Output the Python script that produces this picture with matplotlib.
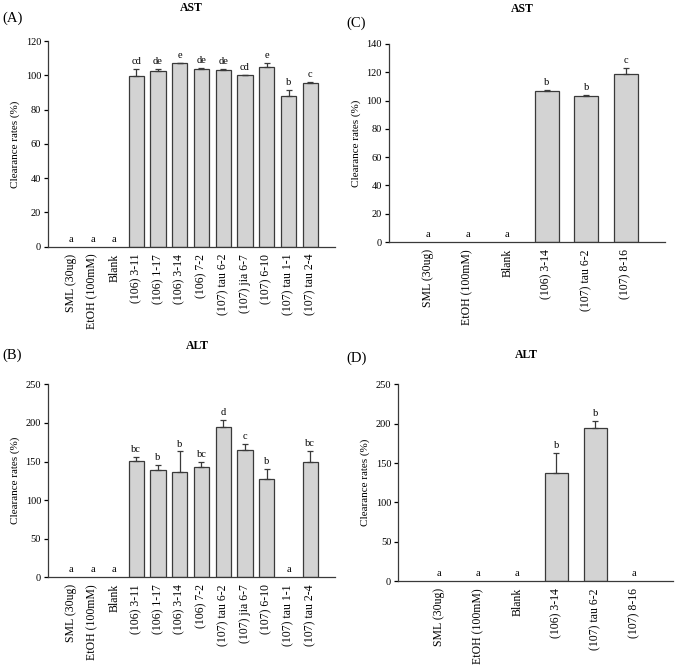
import numpy as np
import matplotlib
matplotlib.use('Agg')
import matplotlib.pyplot as plt

plt.rcParams['font.family'] = ['Liberation Serif', 'DejaVu Serif']

# Panel A / B categories
cats_ab = ['SML (30ug)', 'EtOH (100mM)', 'Blank', '(106) 3-11', '(106) 1-17', '(106) 3-14',
           '(106) 7-2', '(107) tau 6-2', '(107) jia 6-7', '(107) 6-10', '(107) tau 1-1', '(107) tau 2-4']
ast_a = [0, 0, 0, 99.5, 102.5, 107, 103.5, 103, 100, 105, 88, 95.5]
ast_a_err = [0, 0, 0, 4, 1.5, 0.5, 1, 0.5, 0, 2.5, 3.5, 0.5]
ast_a_let = ['a', 'a', 'a', 'cd', 'de', 'e', 'de', 'de', 'cd', 'e', 'b', 'c']

alt_b = [0, 0, 0, 151, 139, 137, 143, 195, 165, 127, 0, 150]
alt_b_err = [0, 0, 0, 5, 7, 26, 6, 9, 8, 13, 0, 14]
alt_b_let = ['a', 'a', 'a', 'bc', 'b', 'b', 'bc', 'd', 'c', 'b', 'a', 'bc']

# Panel C / D categories
cats_cd = ['SML (30ug)', 'EtOH (100mM)', 'Blank', '(106) 3-14', '(107) tau 6-2', '(107) 8-16']
ast_c = [0, 0, 0, 107, 103, 119]
ast_c_err = [0, 0, 0, 0.5, 1, 4]
ast_c_let = ['a', 'a', 'a', 'b', 'b', 'c']

alt_d = [0, 0, 0, 137, 195, 0]
alt_d_err = [0, 0, 0, 26, 8, 0]
alt_d_let = ['a', 'a', 'a', 'b', 'b', 'a']


def draw_panel(ax, cats, vals, errs, letters, ymax, ystep, width, xlim):
    x = np.arange(len(cats))
    vals = np.array(vals, dtype=float)
    errs = np.array(errs, dtype=float)
    has = vals > 0
    # zero bars would leave an edge line on the axis, so skip their outline
    edges = ['#3a3a3a' if h else 'none' for h in has]
    ax.bar(x, vals, width=width, color='#d3d3d3', edgecolor=edges, linewidth=0.9, zorder=2)
    ax.errorbar(x[has], vals[has], yerr=[np.zeros(has.sum()), errs[has]], fmt='none',
                ecolor='#3a3a3a', elinewidth=0.9, capsize=2.5, capthick=0.9, zorder=3)
    off = ymax * 0.015
    for xi, v, e, t in zip(x, vals, errs, letters):
        ax.text(xi, v + e + off, t, ha='center', va='bottom', fontsize=7.5)
    ax.set_xlim(*xlim)
    ax.set_ylim(0, ymax)
    ax.set_yticks(np.arange(0, ymax + 1, ystep))
    ax.set_xticks(x)
    ax.set_xticklabels(cats, rotation=90, fontsize=8.5)
    ax.tick_params(axis='y', labelsize=7.5, direction='out', length=3, width=0.9, pad=2)
    ax.tick_params(axis='x', length=0, pad=5)
    ax.set_ylabel('Clearance rates (%)', fontsize=8, labelpad=4)
    for s in ['top', 'right']:
        ax.spines[s].set_visible(False)
    for s in ['left', 'bottom']:
        ax.spines[s].set_linewidth(0.9)
        ax.spines[s].set_color('#3a3a3a')


fig = plt.figure(figsize=(6.76, 6.65), dpi=100)

ax_a = fig.add_axes([0.071, 0.629, 0.425, 0.309])
draw_panel(ax_a, cats_ab, ast_a, ast_a_err, ast_a_let, 120, 20, 0.7, (-1.05, 12.15))

ax_c = fig.add_axes([0.575, 0.636, 0.409, 0.298])
draw_panel(ax_c, cats_cd, ast_c, ast_c_err, ast_c_let, 140, 20, 0.6, (-1.0, 6.0))

ax_b = fig.add_axes([0.071, 0.132, 0.425, 0.290])
draw_panel(ax_b, cats_ab, alt_b, alt_b_err, alt_b_let, 250, 50, 0.7, (-1.05, 12.15))

ax_d = fig.add_axes([0.589, 0.126, 0.407, 0.296])
draw_panel(ax_d, cats_cd, alt_d, alt_d_err, alt_d_let, 250, 50, 0.6, (-1.05, 6.0))

# titles and panel labels
fig.text(191 / 676, 1 - 8 / 665, 'AST', ha='center', va='center', fontsize=8.5, fontweight='bold')
fig.text(522 / 676, 1 - 9 / 665, 'AST', ha='center', va='center', fontsize=8.5, fontweight='bold')
fig.text(197 / 676, 1 - 346 / 665, 'ALT', ha='center', va='center', fontsize=8.5, fontweight='bold')
fig.text(526 / 676, 1 - 355 / 665, 'ALT', ha='center', va='center', fontsize=8.5, fontweight='bold')

fig.text(2 / 676, 1 - 18 / 665, '(A)', ha='left', va='center', fontsize=10.5)
fig.text(346 / 676, 1 - 23 / 665, '(C)', ha='left', va='center', fontsize=10.5)
fig.text(2 / 676, 1 - 355 / 665, '(B)', ha='left', va='center', fontsize=10.5)
fig.text(346 / 676, 1 - 358 / 665, '(D)', ha='left', va='center', fontsize=10.5)

fig.savefig('out.png', dpi=100)
